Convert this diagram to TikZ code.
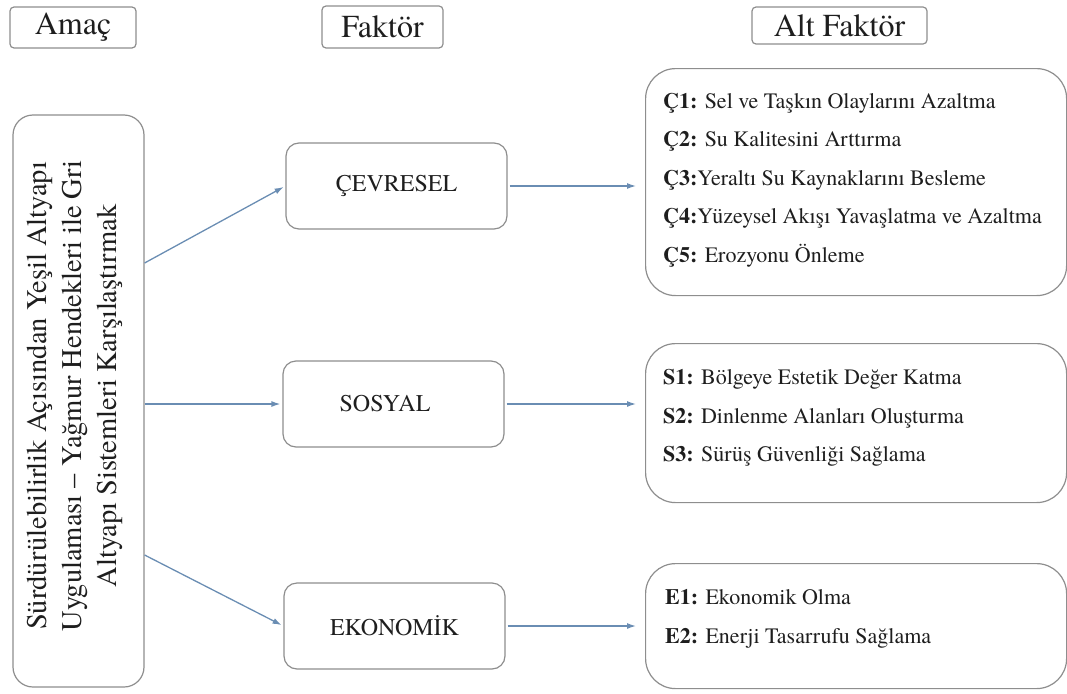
\documentclass[tikz,border=0pt]{standalone}
\usepackage{fontspec}
\setmainfont{texgyretermes}[Extension=.otf, UprightFont=*-regular, BoldFont=*-bold, ItalicFont=*-italic, BoldItalicFont=*-bolditalic]
\usetikzlibrary{arrows.meta}
\definecolor{bordergray}{HTML}{8E8E8E}
\definecolor{arrowblue}{HTML}{6A8DB3}
\definecolor{txt}{HTML}{1E1E1E}
\begin{document}
\begin{tikzpicture}[x=1pt,y=-1pt,
  hdr/.style={draw=bordergray, line width=1.2pt, rounded corners=4pt, fill=white, inner sep=0pt, font=\fontsize{32}{36}\selectfont, text=txt},
  mid/.style={draw=bordergray, line width=1.2pt, rounded corners=13pt, inner sep=0pt, minimum width=221pt, minimum height=86pt, font=\fontsize{24}{28}\selectfont, text=txt},
  rbox/.style={draw=bordergray, line width=1.2pt, rounded corners=30pt, inner sep=0pt, anchor=north west, minimum width=421pt},
  subtxt/.style={anchor=west, align=left, inner sep=0pt, font=\fontsize{22}{38.6}\selectfont, text=txt},
  arr/.style={draw=arrowblue, line width=1.3pt, -{Latex[length=9pt,width=6pt]}}
]
\useasboundingbox (0,0) rectangle (1067,693);

% headers
\node[hdr, minimum width=126pt, minimum height=41pt] (amac) at (73,27.5) {Amaç};
\node[hdr, minimum width=121pt, minimum height=42pt] (faktor) at (382.5,27) {Faktör};
\node[hdr, minimum width=175pt, minimum height=37pt] (altfaktor) at (839.5,25.5) {Alt Faktör};

% goal box
\node[draw=bordergray, line width=1.2pt, rounded corners=20pt, inner sep=0pt, minimum width=131pt, minimum height=572pt] (goal) at (78.5,401) {};
\node[rotate=90, align=center, inner sep=0pt, text=txt, font=\fontsize{28.5}{35}\selectfont] (goaltxt) at (75,396)
  {Sürdürülebilirlik Açısından Yeşil Altyapı\\ Uygulaması – Yağmur Hendekleri ile Gri\\ Altyapı Sistemleri Karşılaştırmak};

% factor boxes
\node[mid] (cev) at (396.5,186) {ÇEVRESEL};
\node[mid] (sos) at (393.5,404) {SOSYAL\hspace*{17pt}};
\node[mid] (eko) at (394.5,626) {EKONOMİK};

% sub-factor boxes
\node[rbox, minimum height=227pt] (rc) at (645,68) {};
\node[rbox, minimum height=159pt] (rs) at (645,343) {};
\node[rbox, minimum height=125pt] (re) at (645,563) {};

\node[subtxt] (rct) at (663,180) {\textbf{Ç1:} Sel ve Taşkın Olaylarını Azaltma\\
\textbf{Ç2:} Su Kalitesini Arttırma\\
\textbf{Ç3:}Yeraltı Su Kaynaklarını Besleme\\
\textbf{Ç4:}Yüzeysel Akışı Yavaşlatma ve Azaltma\\
\textbf{Ç5:} Erozyonu Önleme};
\node[subtxt] (rst) at (663,418) {\textbf{S1:} Bölgeye Estetik Değer Katma\\
\textbf{S2:} Dinlenme Alanları Oluşturma\\
\textbf{S3:} Sürüş Güvenliği Sağlama};
\node[subtxt] (ret) at (665,619) {\textbf{E1:} Ekonomik Olma\\
\textbf{E2:} Enerji Tasarrufu Sağlama};

% arrows
\draw[arr, shorten >=2pt] ([yshift=138pt]goal.east) -- (cev.west);
\draw[arr, shorten >=2pt] (goal.east |- sos.west) -- (sos.west);
\draw[arr, shorten >=2pt] ([yshift=-154pt]goal.east) -- (eko.west);
\draw[arr, shorten <=2pt, shorten >=9pt] (cev.east) -- (cev.east -| rc.west);
\draw[arr, shorten <=2pt, shorten >=9pt] (sos.east) -- (sos.east -| rs.west);
\draw[arr, shorten <=2pt, shorten >=9pt] (eko.east) -- (eko.east -| re.west);
\end{tikzpicture}
\end{document}
